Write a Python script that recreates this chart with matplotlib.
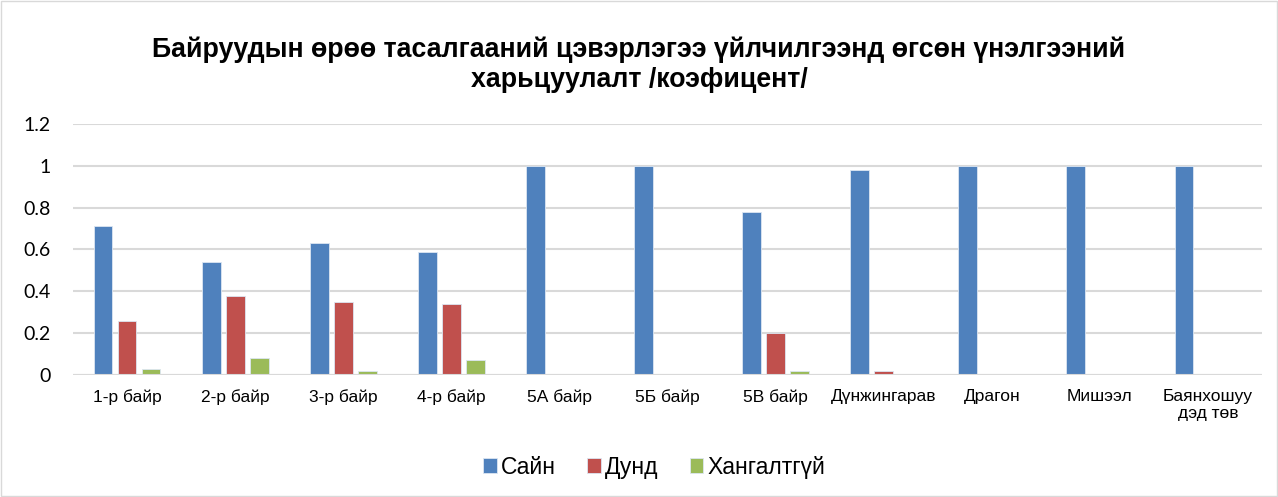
import matplotlib.pyplot as plt
import numpy as np

plt.rcParams['font.family'] = ['Liberation Sans', 'DejaVu Sans']

# --------------------------------------
# Données
# --------------------------------------
categories = ['1-р байр', '2-р байр', '3-р байр', '4-р байр', '5А байр', '5Б байр',
              '5В байр', 'Дүнжингарав', 'Драгон', 'Мишээл', 'Баянхошуу\nдэд төв']
sain = [0.71, 0.54, 0.63, 0.59, 1, 1, 0.78, 0.98, 1, 1, 1]
dund = [0.26, 0.38, 0.35, 0.34, 0, 0, 0.20, 0.02, 0, 0, 0]
hangaltgui = [0.03, 0.08, 0.02, 0.07, 0, 0, 0.02, 0, 0, 0, 0]
series_names = ['Сайн', 'Дунд', 'Хангалтгүй']
couleurs = ['#4F81BD', '#C0504D', '#9BBB59']
ytick_vals = [0, 0.2, 0.4, 0.6, 0.8, 1, 1.2]
ytick_labels = ['0', '0.2', '0.4', '0.6', '0.8', '1', '1.2']

# --------------------------------------
# Figure
# --------------------------------------
fig = plt.figure(figsize=(12.78, 4.97), dpi=100)
ax = fig.add_axes([0.0571, 0.2455, 0.9304, 0.505])

x = np.arange(len(categories))
w = 0.175
for i, (vals, nom) in enumerate(zip([sain, dund, hangaltgui], series_names)):
    ax.bar(x + (i - 1) * 0.222, vals, w, color=couleurs[i], label=nom,
           edgecolor='#dce6f2', linewidth=0.6, zorder=3)

ax.set_xlim(-0.5, len(categories) - 0.5)
ax.set_ylim(0, 1.2)
ax.set_yticks(ytick_vals)
ax.set_yticklabels(ytick_labels, fontsize=14, family='Lato')
ax.set_xticks(x)
ax.set_xticklabels(categories, fontsize=12.5, va='top')
ax.tick_params(axis='both', length=0)
ax.tick_params(axis='x', pad=10)
ax.tick_params(axis='y', pad=16)
ax.grid(axis='y', color='#d9d9d9', linewidth=1.5, zorder=0)
for s in ax.spines.values():
    s.set_visible(False)
ax.axhline(0, color='#d9d9d9', linewidth=1.5, zorder=4)

fig.text(0.5, 0.87, 'Байруудын өрөө тасалгааний цэвэрлэгээ үйлчилгээнд өгсөн үнэлгээний\nхарьцуулалт /коэфицент/',
         ha='center', va='center', fontsize=19.3, fontweight='bold', linespacing=1.2)

fig.legend(loc='center', bbox_to_anchor=(0.512, 0.06), ncol=3, frameon=False,
           fontsize=16.5, handlelength=0.58, handleheight=0.58, handletextpad=0.2,
           columnspacing=1.35)

# cadre gris autour de la figure
fig.patches.append(plt.Rectangle((0.001, 0.002), 0.998, 0.996, transform=fig.transFigure,
                                 fill=False, edgecolor='#d9d9d9', linewidth=1))

plt.savefig('out.png', dpi=100)
